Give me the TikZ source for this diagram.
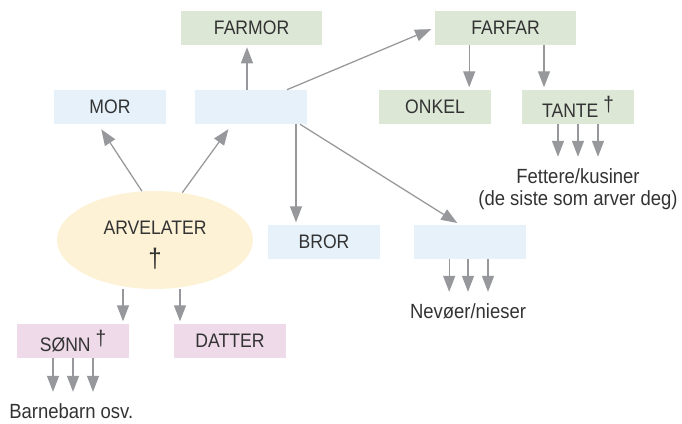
\documentclass[tikz,border=0pt]{standalone}
\usepackage{fontspec}
\setmainfont{Liberation Sans}[FakeStretch=0.9]
\usepackage{xcolor}
\usepackage{tikz}
\usetikzlibrary{calc, arrows.meta, positioning, shapes}

\definecolor{blaa}{HTML}{E6F1FA}
\definecolor{groenn}{HTML}{DCE7D6}
\definecolor{rosa}{HTML}{EEDAE9}
\definecolor{gul}{HTML}{FDF2D5}
\definecolor{pilgraa}{HTML}{97989B}
\definecolor{tekst}{HTML}{333333}
\newcommand{\kors}{\raisebox{4.5pt}{\fontsize{15}{15}\selectfont †}}

\begin{document}
\begin{tikzpicture}[auto, >={Triangle[length=0.4cm, width=0.3cm]}, text=tekst, font=\fontsize{13.9}{17}\selectfont]
		\tikzstyle{boks} = [inner sep=0pt, minimum width=2.8cm, minimum height=0.85cm]
		\tikzstyle{far} = [boks, fill=blaa]
		\tikzstyle{topp} = [boks, fill=groenn]
		\tikzstyle{barn} = [boks, fill=rosa]
		\tikzstyle{rund} = [ellipse, fill=gul, inner sep=0pt, minimum width=4.9cm, minimum height=2.45cm, align=center]
		\tikzstyle{invis} = [draw=none, inner sep=0pt, align=center, font=\fontsize{14.6}{15.6}\selectfont]
		\tikzstyle{pil} = [->, pilgraa, line width=0.9pt, shorten >=0.06cm]
		\tikzstyle{kort} = [shorten >=0.3cm]
		
		\useasboundingbox (0, 0) rectangle (17.05, 10.6);
		
		\node[topp, minimum width=3.525cm] 	at (6.29, 9.91) 	(farmor) 	{FARMOR};
		\node[topp, minimum width=3.525cm] 	at (12.64, 9.91) 	(farfar) 	{FARFAR};
		\node[far] 	at (2.75, 7.925) 	(mor) 	{MOR};
		\node[far] 	at (6.275, 7.925) 	(fa) 	{};
		\node[topp] 	at (10.875, 7.925) 	(onkel) 	{ONKEL};
		\node[topp] 	at (14.45, 7.925) 	(tante) 	{TANTE \kors};
		\node[rund] 	at (3.875, 4.6) 	(arv) 	{\rule{0pt}{17pt}ARVELATER\\[7pt]{\fontsize{19}{19}\selectfont †}};
		\node[far] 	at (8.1, 4.55) 	(bror) 	{BROR};
		\node[far] 	at (11.75, 4.55) 	(soesken) 	{};
		\node[barn] 	at (1.825, 2.075) 	(sonn) 	{SØNN \kors};
		\node[barn] 	at (5.75, 2.075) 	(datter) 	{DATTER};
		\node[invis, anchor=north] 	at (14.45, 6.38) 	(fettere) 	{Fettere/kusiner\\(de siste som arver deg)};
		\node[invis, anchor=base] 	at (11.7, 2.625) 	(nevoer) 	{Nevøer/nieser};
		\node[invis, anchor=base west] 	at (0.225, 0.125) 	(barnebarn) 	{Barnebarn osv.};
		
		\path[pil]
		(arv.105)	edge[shorten >=0.15cm]	([xshift=-0.3cm]mor.south)
		(arv.60)	edge[shorten >=0.15cm]	([xshift=-0.475cm]fa.south)
		([xshift=-0.1cm]fa.north)	edge	([xshift=-0.1cm]fa.north |- farmor.south)
		([xshift=0.9cm]fa.north)	edge[shorten >=0.1cm]	(farfar.west)
		([xshift=1.125cm]fa.south)	edge	([xshift=1.125cm]fa.south |- bror.north)
		([xshift=-0.18cm]fa.south east)	edge[shorten >=0.08cm]	([xshift=-0.25cm]soesken.north)
		([xshift=-0.91cm]farfar.south)	edge	([xshift=-0.91cm]farfar.south |- onkel.north)
		([xshift=0.96cm]farfar.south)	edge	([xshift=0.96cm]farfar.south |- tante.north)
		([xshift=1.25cm]sonn.north |- arv.south)	edge	([xshift=1.25cm]sonn.north)
		([xshift=-1.25cm]datter.north |- arv.south)	edge	([xshift=-1.25cm]datter.north);
		
		\path[pil, kort]
		([xshift=-0.5cm]tante.south)	edge	([xshift=-0.5cm]tante.south |- fettere.north)
		(tante.south)	edge	(tante.south |- fettere.north)
		([xshift=0.5cm]tante.south)	edge	([xshift=0.5cm]tante.south |- fettere.north)
		([xshift=-0.52cm]soesken.south)	edge	([xshift=-0.52cm]soesken.south |- nevoer.north)
		([xshift=-0.05cm]soesken.south)	edge	([xshift=-0.05cm]soesken.south |- nevoer.north)
		([xshift=0.45cm]soesken.south)	edge	([xshift=0.45cm]soesken.south |- nevoer.north)
		([xshift=-0.5cm]sonn.south)	edge	([xshift=-0.5cm]sonn.south |- barnebarn.north)
		(sonn.south)	edge	(sonn.south |- barnebarn.north)
		([xshift=0.5cm]sonn.south)	edge	([xshift=0.5cm]sonn.south |- barnebarn.north);
\end{tikzpicture}
\end{document}
